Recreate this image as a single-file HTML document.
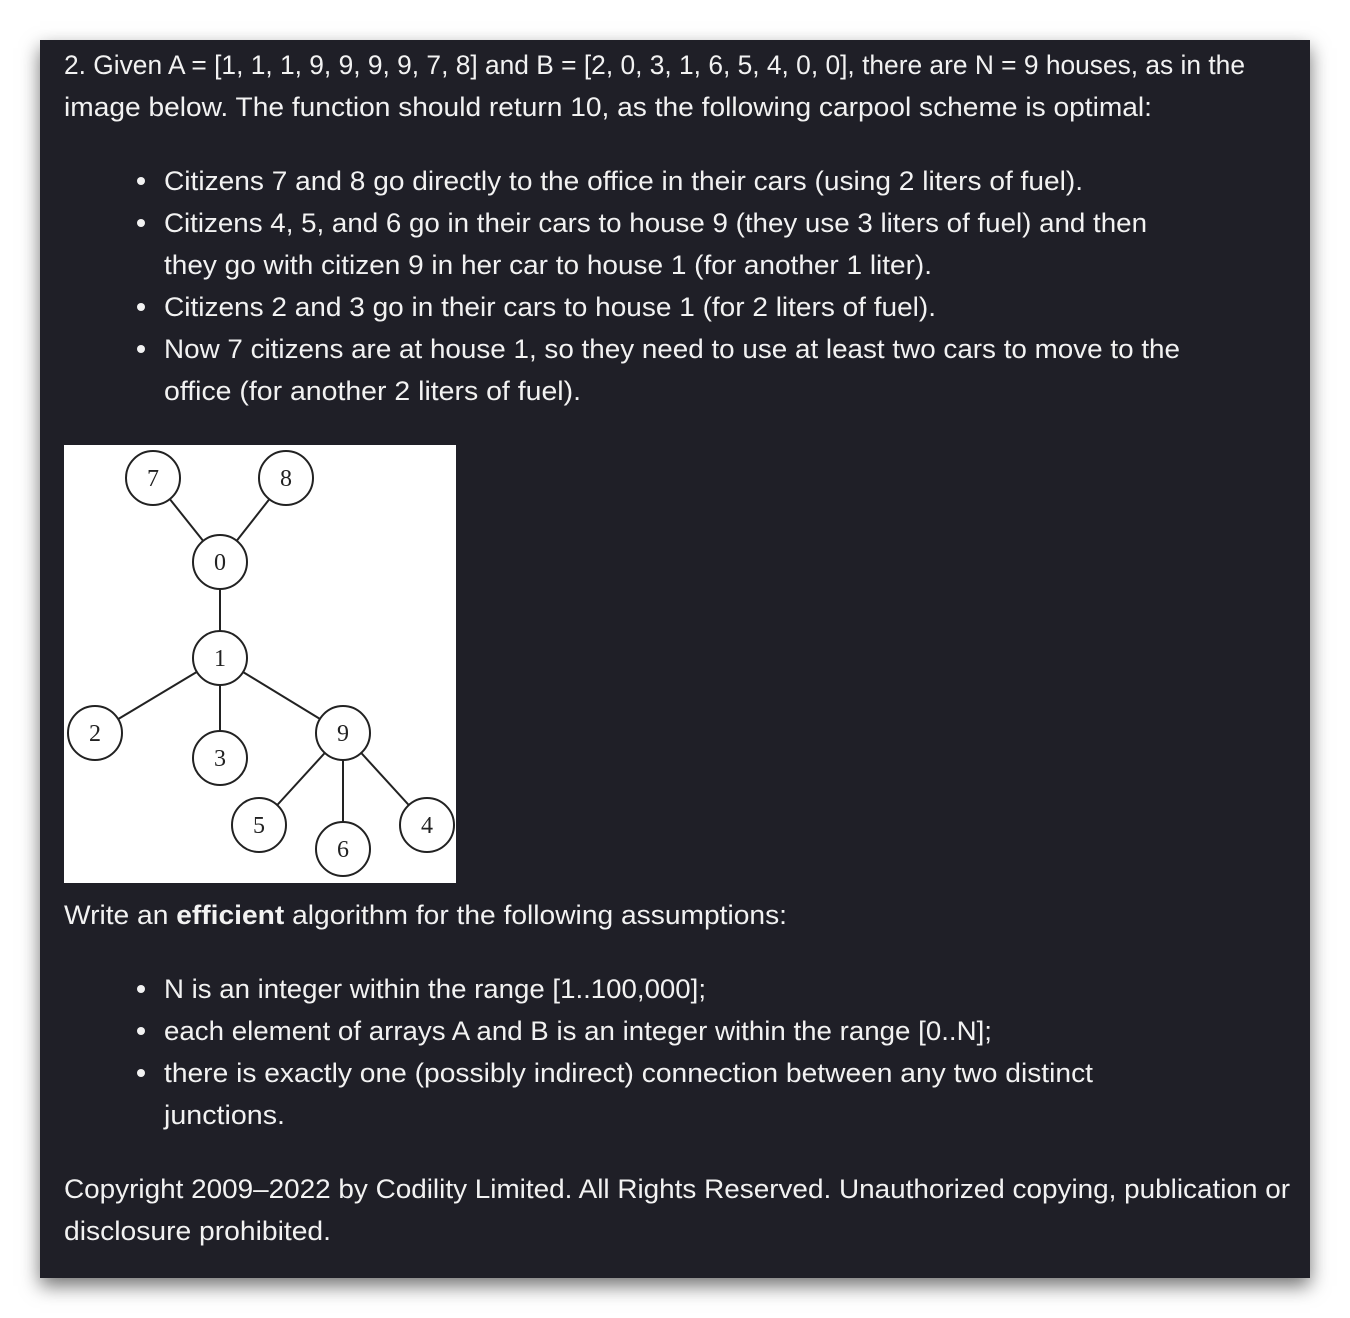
<!DOCTYPE html>
<html><head><meta charset="utf-8"><style>
html,body{margin:0;padding:0;background:#fff;}
body{width:1350px;height:1318px;position:relative;overflow:hidden;font-family:"Liberation Sans",sans-serif;}
#panel{position:absolute;left:40px;top:40px;width:1270px;height:1238px;background:#1f1f27;box-shadow:0 8px 18px rgba(0,0,0,0.55);}
.t{position:absolute;color:#f2f2f2;font-size:27px;white-space:nowrap;line-height:30px;transform-origin:0 50%;}
.b{position:absolute;left:137px;width:8px;height:8px;border-radius:50%;background:#f2f2f2;}
#tree{position:absolute;left:64px;top:445px;}
</style></head><body>
<div id="panel"></div>
<div class="t" data-w="1181" style="left:64px;top:50px">2. Given A = [1, 1, 1, 9, 9, 9, 9, 7, 8] and B = [2, 0, 3, 1, 6, 5, 4, 0, 0], there are N = 9 houses, as in the</div>
<div class="t" data-w="1088" style="left:64px;top:92px">image below. The function should return 10, as the following carpool scheme is optimal:</div>

<div class="b" style="top:177px"></div>
<div class="t" data-w="919" style="left:164px;top:166px">Citizens 7 and 8 go directly to the office in their cars (using 2 liters of fuel).</div>
<div class="b" style="top:219px"></div>
<div class="t" data-w="983" style="left:164px;top:208px">Citizens 4, 5, and 6 go in their cars to house 9 (they use 3 liters of fuel) and then</div>
<div class="t" data-w="768" style="left:164px;top:250px">they go with citizen 9 in her car to house 1 (for another 1 liter).</div>
<div class="b" style="top:303px"></div>
<div class="t" data-w="772" style="left:164px;top:292px">Citizens 2 and 3 go in their cars to house 1 (for 2 liters of fuel).</div>
<div class="b" style="top:345px"></div>
<div class="t" data-w="1016" style="left:164px;top:334px">Now 7 citizens are at house 1, so they need to use at least two cars to move to the</div>
<div class="t" data-w="417" style="left:164px;top:376px">office (for another 2 liters of fuel).</div>

<svg id="tree" width="392" height="438">
<rect width="392" height="438" fill="#fff"/>
<g stroke="#222" stroke-width="2" fill="none">
<line x1="89" y1="33" x2="156" y2="117"/><line x1="222" y1="33" x2="156" y2="117"/>
<line x1="156" y1="117" x2="156" y2="213"/>
<line x1="156" y1="213" x2="31" y2="288"/><line x1="156" y1="213" x2="156" y2="313"/>
<line x1="156" y1="213" x2="279" y2="288"/>
<line x1="279" y1="288" x2="195" y2="380"/><line x1="279" y1="288" x2="279" y2="404"/><line x1="279" y1="288" x2="363" y2="380"/>
</g>
<g fill="#fff" stroke="#222" stroke-width="2">
<circle cx="89" cy="33" r="27"/><circle cx="222" cy="33" r="27"/><circle cx="156" cy="117" r="27"/>
<circle cx="156" cy="213" r="27"/><circle cx="31" cy="288" r="27"/><circle cx="156" cy="313" r="27"/>
<circle cx="279" cy="288" r="27"/><circle cx="195" cy="380" r="27"/><circle cx="279" cy="404" r="27"/><circle cx="363" cy="380" r="27"/>
</g>
<g font-family="Liberation Serif,serif" font-size="24" fill="#222" text-anchor="middle">
<text x="89" y="41">7</text><text x="222" y="41">8</text><text x="156" y="125">0</text>
<text x="156" y="221">1</text><text x="31" y="296">2</text><text x="156" y="321">3</text>
<text x="279" y="296">9</text><text x="195" y="388">5</text><text x="279" y="412">6</text><text x="363" y="388">4</text>
</g>
</svg>

<div class="t" data-w="723" style="left:64px;top:900px">Write an <b>efficient</b> algorithm for the following assumptions:</div>
<div class="b" style="top:985px"></div>
<div class="t" data-w="542" style="left:164px;top:974px">N is an integer within the range [1..100,000];</div>
<div class="b" style="top:1027px"></div>
<div class="t" data-w="828" style="left:164px;top:1016px">each element of arrays A and B is an integer within the range [0..N];</div>
<div class="b" style="top:1069px"></div>
<div class="t" data-w="929" style="left:164px;top:1058px">there is exactly one (possibly indirect) connection between any two distinct</div>
<div class="t" data-w="121" style="left:164px;top:1100px">junctions.</div>
<div class="t" data-w="1226" style="left:64px;top:1174px">Copyright 2009–2022 by Codility Limited. All Rights Reserved. Unauthorized copying, publication or</div>
<div class="t" data-w="267" style="left:64px;top:1216px">disclosure prohibited.</div>
<script>
document.querySelectorAll('.t').forEach(function(el){
  var w=parseFloat(el.getAttribute('data-w'));
  var a=el.getBoundingClientRect().width;
  if(w&&a) el.style.transform='scaleX('+(w/a)+')';
});
</script>
</body></html>
